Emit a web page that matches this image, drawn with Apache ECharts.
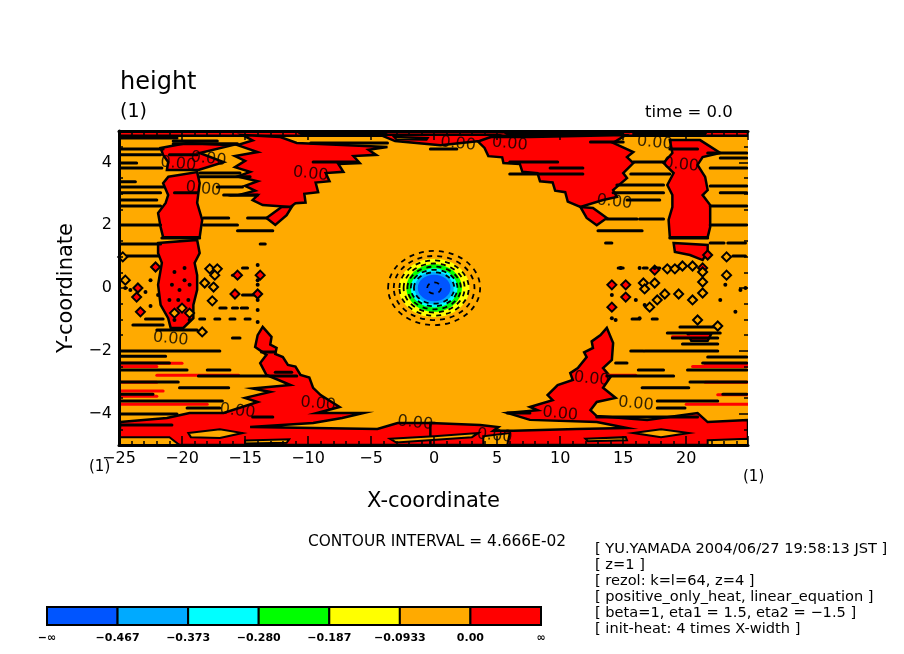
<!DOCTYPE html>
<html lang="en">
<head>
  <meta charset="UTF-8">
  <script src="https://cdn.jsdelivr.net/npm/echarts/dist/echarts.min.js"></script>
  <title>height</title>
  <style>
    html, body { margin: 0; background: #fff; }
    #chart { width: 904px; height: 654px; }
  </style>
</head>
<body>
  <div id="chart"></div>
  <script>
    // regiones por encima de 0 (contorno 0.00), en unidades de los ejes
    const redRegions = [
      [[-25,5],[24.9,5],[24.9,4.85],[-25,4.85]],
      [[-15.2,4.87],[-12.2,4.81],[-10.9,4.62],[-3.7,4.49],[-5.2,4.4],[-4.6,4.24],[-6.4,4.2],[-5.9,3.98],[-7.6,3.95],[-7.2,3.7],[-8.6,3.66],[-8.3,3.4],[-9.4,3.36],[-9.2,3.05],[-10.3,3],[-10.2,2.72],[-11,2.7],[-11.4,2.58],[-13.6,2.64],[-14.4,2.8],[-14,2.96],[-15.6,2.95],[-14.2,3.1],[-15,3.25],[-14,3.4],[-15.6,3.55],[-14.6,3.7],[-15.8,3.85],[-15,4.05],[-15.8,4.2],[-14,4.33],[-15.6,4.55],[-14.4,4.7]],
      [[-13.3,2.23],[-12.1,2.58],[-11.3,2.58],[-11.7,2.32],[-12.6,2.01]],
      [[-21.7,4.46],[-19.6,4.62],[-16,4.55],[-18.6,4.3],[-16.7,4.01],[-18.7,3.76],[-21.2,3.76],[-21.1,4.01],[-21.5,4.24]],
      [[-21.1,3.54],[-18.8,3.69],[-18.6,3.34],[-18.8,2.71],[-18.4,2.17],[-18.6,1.62],[-21.5,1.62],[-21.7,1.94],[-21.9,2.39],[-21.3,2.71],[-21.1,2.96],[-21.5,3.34]],
      [[-21.9,1.43],[-18.8,1.53],[-18.6,1.11],[-19,0.8],[-18.8,0.41],[-18.8,-0.06],[-19.1,-0.54],[-19.1,-0.96],[-19.9,-1.27],[-20.9,-1.27],[-21.1,-0.96],[-21.7,-0.54],[-21.9,0.1],[-21.6,0.8],[-21.9,1.11]],
      [[-24.9,-4.27],[-21.2,-4.14],[-19.4,-3.98],[-16.7,-3.98],[-14,-3.63],[-15,-3.5],[-13,-3.31],[-14.4,-3.2],[-11.4,-3.09],[-13.3,-2.77],[-13.8,-2.39],[-13.3,-2.13],[-14.2,-1.88],[-14,-1.5],[-13.6,-1.24],[-12.9,-1.56],[-13,-1.8],[-12.5,-1.91],[-12.6,-2.1],[-12,-2.2],[-11.6,-2.45],[-11,-2.5],[-10.6,-2.77],[-9.9,-2.85],[-9.6,-3.18],[-9,-3.41],[-7.5,-3.79],[-9.3,-3.98],[-5.6,-3.98],[-7.3,-4.14],[-9.6,-4.3],[-14.6,-4.43],[-4.5,-4.49],[-2.9,-4.3],[0,-4.3],[0,-5],[-25,-5]],
      [[-0.3,-4.3],[3.65,-4.36],[5.1,-4.43],[4.7,-4.55],[6.3,-4.55],[11.3,-4.49],[15.3,-4.46],[12.9,-4.27],[7.6,-4.2],[5.8,-3.98],[8.2,-3.89],[7.6,-3.79],[9.4,-3.57],[9,-3.41],[9.8,-3.09],[11,-2.93],[10.8,-2.71],[11.4,-2.55],[12.1,-2.2],[11.9,-2.05],[12.6,-1.91],[12.5,-1.7],[13.2,-1.5],[13.7,-1.27],[14.2,-1.75],[14.1,-2.29],[13.4,-2.55],[14,-2.83],[13.4,-3.18],[14.4,-3.5],[12.9,-3.63],[12.4,-3.89],[12.9,-4.08],[16.9,-4.2],[20.9,-3.98],[21.7,-4.27],[24.9,-4.2],[24.9,-5],[-0.3,-5]],
      [[3.1,4.81],[4,4.46],[4.3,4.2],[5.4,4.16],[5.5,3.98],[6.8,3.95],[7,3.7],[8.2,3.66],[8.4,3.4],[9.4,3.36],[9.6,3.1],[10.4,3.05],[10.6,2.75],[11.6,2.58],[13.4,2.8],[14.5,2.9],[14.2,3.12],[15.3,3.5],[15,3.66],[15.8,3.98],[15.3,4.17],[15.8,4.33],[14.2,4.62],[15.2,4.87],[7.6,4.81]],
      [[-4.3,4.88],[5,4.88],[3.6,4.68],[0.5,4.55],[-3.1,4.68]],
      [[11.6,2.58],[12.6,2.55],[13.7,2.23],[12.9,2],[12.1,2.23]],
      [[18.7,4.71],[21.1,4.71],[22.7,4.3],[21.3,4.17],[20.9,3.92],[21.5,3.54],[21.7,3.12],[21.3,2.96],[21.9,2.64],[21.9,1.94],[21.7,1.62],[18.7,1.62],[18.6,2.17],[18.9,2.58],[18.9,2.96],[18.5,3.28],[19,3.66],[18.2,3.98],[18.9,4.3]],
      [[19,1.43],[21.7,1.37],[21.7,1.15],[21.3,0.89],[20.3,1.05],[19.1,1.15]],
      [[20.1,-1.45],[22,-1.45],[21.7,-1.68],[20.4,-1.68]]
    ];
    // islas por debajo de 0 dentro de las regiones rojas
    const orangeHoles = [
      [[-19.5,-4.62],[-17,-4.5],[-15.2,-4.62],[-17,-4.78],[-19.3,-4.75]],
      [[-25,-4.75],[-21,-4.75],[-20.2,-5],[-25,-5]],
      [[-15,-4.86],[-11.5,-4.82],[-11.7,-4.93],[-15,-4.95]],
      [[-3.5,-4.8],[0,-4.72],[3.5,-4.62],[3,-4.75],[-3,-4.92]],
      [[15.8,-4.62],[18,-4.5],[20.2,-4.62],[18,-4.75]],
      [[12,-4.8],[15.2,-4.75],[15.3,-4.85],[12.2,-4.88]],
      [[3.9,-4.72],[6,-4.62],[5.8,-5],[3.9,-5]],
      [[21.7,-4.85],[24.9,-4.8],[24.9,-5],[21.7,-5]],
      [[-3.2,4.82],[-0.5,4.78],[-0.6,4.72],[-3,4.74]],
      [[-10.8,4.96],[-3.8,4.94],[-4,4.89],[-10.5,4.89]],
      [[5.5,4.97],[15,4.96],[15,4.9],[5.8,4.9]],
      [[15.8,4.97],[21.6,4.96],[21.5,4.9],[15.8,4.9]]
    ];
    // hilos rojos: [x0, x1, y]
    const redStreaks = [
      [-24.9,-20,-2.4],[-24.9,-22,-2.5],[-24.9,-22,-3],[-24.9,-22,-3.45],[-24.9,-18,-3.7],[-24.9,-21.5,-3.28],
      [21.5,24.9,-2.42],[20.5,24.9,-2.5],[21.5,24.9,-3],[20,24.9,-3.7],[22.5,24.9,-3.4],
      [-22,-15.5,-2.78],[13.5,16,-2.78],[18.9,21.5,-1.55]
    ];
    // hilos negros del contorno: [x0, x1, y]
    const blackStreaks = [
      [-20.7,-15.6,4.59],[-24.9,-21.5,4.43],[-24.9,-21.7,4.24],[-21,-18.8,4.24],[-24.9,-23.6,3.98],[-24.9,-21.6,3.82],
      [-18.6,-15.4,3.66],[-18.6,-14.6,3.54],[-24.9,-23.7,3.38],[-24.9,-21.5,3.22],[-17.2,-15.2,3.22],[-24.9,-21.7,3.03],
      [-20.6,-18.8,3.03],[-16.7,-14,2.96],[-24.9,-22,2.8],[-24.9,-21.7,2.61],[-18.3,-16.3,2.23],[-14.8,-13.3,2.23],
      [-24.9,-21.7,2.01],[-18.3,-15.6,2.01],[-15.6,-12.8,1.82],[-21.6,-18.6,1.59],[-24.9,-21.7,1.4],[-13.8,-13.4,1.4],
      [-24.4,-21.9,1.02],[-24.9,-20.4,4.78],[-20.7,-17.2,4.68],[-9.8,-3.7,4.62],[-9.6,-6.1,4.01],
      [12.4,15,4.65],[-0.3,1.8,4.43],[18.7,20.9,4.43],[21.7,24.8,4.3],[22.7,24.8,4.14],[6,9.8,4.01],[15.8,18.2,4.01],
      [9.2,11.8,3.82],[21.9,24.8,3.82],[6,11.8,3.63],[15.6,18.7,3.63],[14.5,18.2,3.28],[21.9,24.8,3.25],[14.2,18.2,3.03],
      [22.7,24.8,3.03],[15.3,17.9,2.8],[21.9,24.8,2.61],[13.7,16.1,2.2],[16.3,18.2,2.2],[21.9,24.8,2.01],[13,16.5,1.82],
      [18.7,21.7,1.59],[13.6,14.1,1.43],[21.9,23,1.43],[23.3,24.7,1.43],[23.7,24.7,1.02],
      [-15.2,-14.2,-0.22],[-22.9,-21.5,-0.99],[-23.9,-21.5,-1.18],[-22,-18.8,-1.34],[-16,-15.4,-1.59],[-24.9,-17,-2.01],
      [-24.9,-21.3,-2.17],[-24.9,-21,-2.39],[-24.9,-19.6,-2.61],[-18,-16.2,-2.61],[-18.7,-10.9,-2.8],[-24.9,-20.3,-2.99],
      [-20.2,-16.3,-3.18],[-24.9,-22.3,-3.38],[-24.9,-16.8,-3.6],[-19.6,-17,-3.82],[-24.9,-20.4,-4.01],[-24.9,-20.8,-4.36],
      [-14.4,-12.8,-4.11],[-13.7,-12.6,-2.04],[-12.6,-11.3,-2.68],
      [15.6,16.6,-2.01],[16.7,22.5,-2.01],[21.7,24.8,-2.2],[14.4,15.3,-2.39],[21.3,24.8,-2.39],[16.2,18.2,-2.61],[20.1,24.8,-2.61],
      [13.7,19,-2.8],[20.3,24.8,-2.99],[16.5,20.2,-3.18],[22.9,24.8,-3.38],[17.7,22.5,-3.6],[17.7,19.9,-3.82],[5.8,7.6,-3.98],
      [12.9,20.9,-4.11],[18.5,22.7,-1.43],[18.9,22.5,-1.59],[19.7,22.5,-1.78],[19.5,22.7,-1.24],
      [-15.2,-14.8,0.64],[14.6,15,0.64],[16.6,16.9,0.64],[17.6,17.9,0.64],[-16,-15.4,0.41],[-17,-16.5,-0.64],[-16,-15.6,-0.64],
      [-15.3,-14.8,-0.64],[-18.6,-18.2,-0.99],[-17.4,-17,-0.99],[-16.2,-15.8,-0.99],[-15,-14.6,-0.99],[15.7,16.3,-0.99],[17.3,17.7,-0.99]
    ];
    // contornos cerrados pequeños
    const hollowDiamonds = [
      [-24.7,0.99],[-17.8,0.61],[-17.2,0.61],[-17.4,0.41],[-24.5,0.25],[-17.5,0.03],[-18.2,0.16],[-17.6,-0.41],[-18.4,-1.4],[-20.6,-0.8],[-19.4,-0.8],[-20,-0.64],
      [23.2,0.99],[18.5,0.61],[19.1,0.61],[19.7,0.7],[20.5,0.7],[23.2,0.41],[21.3,0.19],[16.6,0.16],[17.5,0.16],[18.3,-0.19],[19.4,-0.19],[20.5,-0.38],[16.7,-0.03],[17.7,-0.38],[17.1,-0.61],[22.5,-1.21],[20.9,-1.02],[21.3,-0.16],[21.3,0.51]
    ];
    const redDiamonds = [
      [-22.1,0.67],[-15.6,0.41],[-13.8,0.41],[-23.5,0],[-23.6,-0.29],[-15.8,-0.19],[-14,-0.19],[-23.3,-0.76],
      [14.1,-0.61],[14.1,0.1],[15.2,0.1],[15.2,-0.29],[17.5,0.57],[21.3,0.64],[21.7,1.05]
    ];
    const speckles = [
      [-20.6,0.51],[-19.8,0.64],[-19.8,0.25],[-20.8,0.1],[-20.2,-0.06],[-19.4,0.1],[-21,-0.38],[-20.3,-0.38],[-19.5,-0.38],[-20.6,-1.02],[-19.4,-1.02],
      [-24.5,0],[-24.1,-0.06],[-22.5,0.25],[-22.9,-0.13],[-21.9,-0.22],[-22.5,-0.57],
      [-14,0.73],[-14,0.25],[-14,0.1],[-14,-0.38],[-14,-0.7],[-14,-1.08],
      [14.8,0.64],[16.3,0.64],[17.5,0.64],[14.1,-0.22],[14.1,-0.96],[16,-0.38],[16.7,-0.54],[14.4,-1.02],[16.3,-0.96],[23.1,0.1],[24.3,-0.06],[22.7,-0.38],[23.9,-0.76],[24.7,0]
    ];

    // núcleo negativo: semiejes de cada nivel relleno
    const coreRx = [2.8, 2.2, 1.85, 1.55, 1.3];
    const coreRy = [0.93, 0.76, 0.62, 0.52, 0.42];
    const coreColors = ['#ffff00', '#00ff00', '#00ffff', '#00aaff', '#0055ff'];
    // contornos negativos a trazos
    const dashRx = [3.65, 3.2, 2.75, 2.42, 2.12, 1.85, 1.6, 0.55];
    const dashRy = [1.18, 1.02, 0.88, 0.78, 0.68, 0.58, 0.5, 0.18];

    const zeroLabelX = [1.9, 6, 17.5, 19.6, 14.3, -9.8, -20.3, -17.9, -18.3, -20.9, -15.6, -9.2, -1.5, 4.8, 10, 12.5, 16];
    const zeroLabelY = [4.59, 4.59, 4.62, 3.92, 2.74, 3.63, 3.95, 4.11, 3.15, -1.62, -3.92, -3.69, -4.3, -4.71, -4.01, -2.9, -3.69];

    const yMajorTicks = [-4, -2, 0, 2, 4];
    const yMinorTicks = [-4.5, -3.5, -3, -2.5, -1.5, -1, -0.5, 0.5, 1, 1.5, 2.5, 3, 3.5, 4.5];

    const barColors = ['#0055ff', '#00aaff', '#00ffff', '#00ff00', '#ffff00', '#ffaa00', '#ff0000'];
    const barTicks = ['−∞', '−0.467', '−0.373', '−0.280', '−0.187', '−0.0933', '0.00', '∞'];

    const infoLines = [
      '[ YU.YAMADA 2004/06/27 19:58:13 JST ]',
      '[ z=1 ]',
      '[ rezol: k=l=64, z=4 ]',
      '[ positive_only_heat, linear_equation ]',
      '[ beta=1, eta1 = 1.5, eta2 = −1.5 ]',
      '[ init-heat: 4 times X-width ]'
    ];

    const font = 'DejaVu Sans';
    const chart = echarts.init(document.getElementById('chart'), null, { renderer: 'canvas' });

    function polygonSeries(list, fill, width) {
      return {
        type: 'custom', xAxisIndex: 0, yAxisIndex: 0, clip: true, silent: true,
        data: list.map((p, i) => [i]),
        renderItem(params, api) {
          return {
            type: 'polygon',
            shape: { points: list[params.dataIndex].map(p => api.coord(p)) },
            style: { fill: fill, stroke: '#000', lineWidth: width }
          };
        }
      };
    }
    function streakSeries(list, color) {
      return {
        type: 'custom', xAxisIndex: 0, yAxisIndex: 0, clip: true, silent: true,
        data: list,
        renderItem(params, api) {
          const a = api.coord([api.value(0), api.value(2)]);
          const b = api.coord([api.value(1), api.value(2)]);
          return {
            type: 'line',
            shape: { x1: a[0], y1: a[1], x2: b[0], y2: b[1] },
            style: { stroke: color, lineWidth: 3, lineCap: 'round' }
          };
        }
      };
    }
    function ellipseSeries(rx, ry, colors) {
      return {
        type: 'custom', xAxisIndex: 0, yAxisIndex: 0, clip: true, silent: true,
        data: rx.map((r, i) => [r, ry[i]]),
        renderItem(params, api) {
          const c = api.coord([0, 0]);
          const size = api.size([api.value(0), api.value(1)]);
          const style = colors
            ? { fill: colors[params.dataIndex], stroke: null }
            : { fill: null, stroke: '#000', lineWidth: 1.8, lineDash: [5, 5] };
          return { type: 'ellipse', shape: { cx: c[0], cy: c[1], rx: size[0], ry: size[1] }, style };
        }
      };
    }
    function dotSeries(list, symbol, size, fill, stroke) {
      return {
        type: 'scatter', xAxisIndex: 0, yAxisIndex: 0, silent: true, symbol, symbolSize: size,
        data: list, itemStyle: { color: fill, borderColor: stroke, borderWidth: stroke ? 2 : 0, opacity: 1 }
      };
    }

    const axisText = { fontFamily: font, fontSize: 16, color: '#000' };
    const frame = { show: true, onZero: false, lineStyle: { color: '#000', width: 3 } };
    const tickStyle = { color: '#000', width: 1.5 };
    function xFrameAxis(position, labels) {
      return {
        type: 'value', gridIndex: 0, position, min: -25, max: 24.9, interval: 5, z: 10,
        axisLine: frame, splitLine: { show: false },
        axisTick: { show: true, inside: true, length: 9, lineStyle: tickStyle },
        minorTick: { show: true, splitNumber: 5, length: 4, lineStyle: tickStyle },
        axisLabel: { show: labels, margin: 6, showMaxLabel: false, ...axisText, formatter: v => String(v).replace('-', '−') },
        name: labels ? 'X-coordinate' : '', nameLocation: 'middle', nameGap: 46,
        nameTextStyle: { fontFamily: font, fontSize: 21, color: '#000' }
      };
    }
    function yFrameAxis(position, ticks, length, labels) {
      return {
        type: 'value', gridIndex: 0, position, min: -5, max: 5, z: 10,
        axisLine: labels ? frame : { show: false, onZero: false }, splitLine: { show: false },
        axisTick: { show: true, inside: true, length, customValues: ticks, lineStyle: tickStyle },
        axisLabel: { show: labels, customValues: ticks, margin: 7, ...axisText, formatter: v => String(v).replace('-', '−') },
        name: labels ? 'Y-coordinate' : '', nameLocation: 'middle', nameGap: 37,
        nameTextStyle: { fontFamily: font, fontSize: 21, color: '#000' }
      };
    }
    function note(text, x, y, size, extra) {
      return { type: 'text', x, y, style: { text, fontFamily: font, fontSize: size, fill: '#000', ...extra } };
    }

    chart.setOption({
      animation: false,
      backgroundColor: '#fff',
      grid: [
        { left: 119, right: 156, top: 131, bottom: 209, show: true, backgroundColor: '#ffaa00', borderWidth: 0 },
        { left: 47, width: 494, top: 607, height: 18, show: false }
      ],
      xAxis: [
        xFrameAxis('bottom', true),
        xFrameAxis('top', false),
        {
          type: 'value', gridIndex: 1, min: 0, max: 7, interval: 1, z: 10,
          axisLine: { show: false }, splitLine: { show: false }, axisTick: { show: false },
          axisLabel: {
            margin: 8, fontFamily: font, fontSize: 11, fontWeight: 'bold', color: '#000', showMinLabel: true, showMaxLabel: true,
            formatter: v => barTicks[v]
          }
        }
      ],
      yAxis: [
        yFrameAxis('left', yMajorTicks, 9, true),
        yFrameAxis('left', yMinorTicks, 4, false),
        yFrameAxis('right', yMajorTicks, 9, false),
        yFrameAxis('right', yMinorTicks, 4, false),
        { type: 'value', gridIndex: 1, min: 0, max: 1, show: false }
      ],
      series: [
        polygonSeries(redRegions, '#ff0000', 2.5),
        polygonSeries(orangeHoles, '#ffaa00', 2),
        streakSeries(redStreaks, '#ff0000'),
        streakSeries(blackStreaks, '#000'),
        dotSeries(redDiamonds, 'diamond', 9, '#ff0000', '#000'),
        dotSeries(hollowDiamonds, 'diamond', 9, '#ffaa00', '#000'),
        dotSeries(speckles, 'circle', 4, '#000', null),
        ellipseSeries(coreRx, coreRy, coreColors),
        ellipseSeries(dashRx, dashRy, null),
        {
          type: 'scatter', xAxisIndex: 0, yAxisIndex: 0, silent: true, symbolSize: 0,
          data: zeroLabelX.map((x, i) => [x, zeroLabelY[i]]),
          label: { show: true, position: 'inside', formatter: '0.00', rotate: -6, fontFamily: font, fontSize: 16, color: '#000' }
        },
        {
          type: 'custom', xAxisIndex: 2, yAxisIndex: 4, silent: true,
          data: barColors.map((c, i) => [i]),
          renderItem(params, api) {
            const a = api.coord([api.value(0), 1]);
            const b = api.coord([api.value(0) + 1, 0]);
            return {
              type: 'rect',
              shape: { x: a[0], y: a[1], width: b[0] - a[0], height: b[1] - a[1] },
              style: { fill: barColors[params.dataIndex], stroke: '#000', lineWidth: 2 }
            };
          }
        }
      ],
      graphic: [
        note('height', 120, 71, 24),
        note('(1)', 120, 103, 19),
        note('time = 0.0', 645, 104, 16.5),
        note('(1)', 89, 460, 15),
        note('(1)', 743, 470, 15),
        note('CONTOUR INTERVAL = 4.666E-02', 308, 534, 15.4),
        ...infoLines.map((line, i) => note(line, 595, 542 + i * 16, 14.6))
      ]
    });
  </script>
</body>
</html>
